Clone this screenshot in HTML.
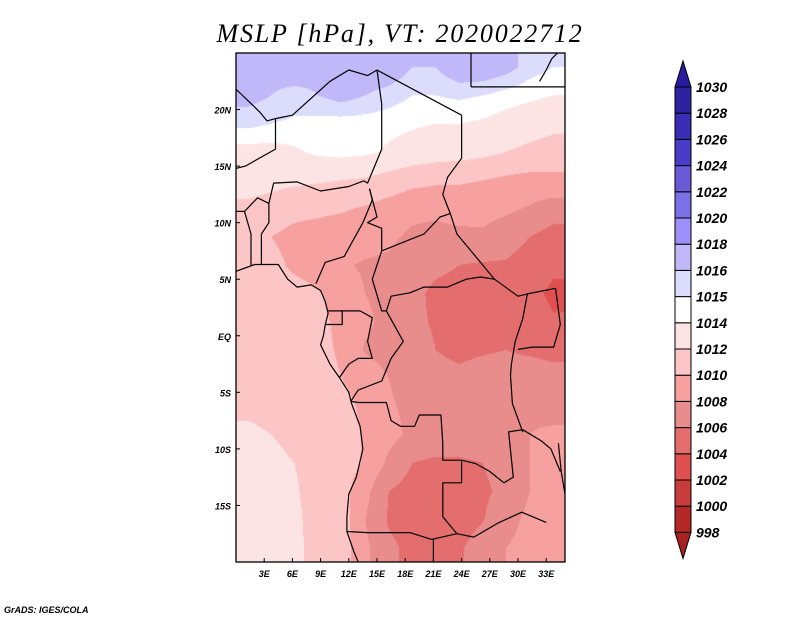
<!DOCTYPE html>
<html><head><meta charset="utf-8">
<style>
body{margin:0;background:#fff;}
#wrap{position:relative;width:800px;height:618px;overflow:hidden;background:#fff;font-family:"Liberation Sans",sans-serif;}
#map{position:absolute;left:236px;top:53px;}
svg{position:absolute;left:0;top:0;}
</style></head>
<body>
<div id="wrap">
<canvas id="map" width="329" height="509"></canvas>
<svg id="ov" width="800" height="618"></svg>
</div>
<script>
// Data grid: 2.5 deg cells, lon centres 1.25..33.75, lat centres 23.75..-18.75 (hPa)
const lonCenters=[1.25,3.75,6.25,8.75,11.25,13.75,16.25,18.75,21.25,23.75,26.25,28.75,31.25,33.75];
const latCenters=[23.75,21.25,18.75,16.25,13.75,11.25,8.75,6.25,3.75,1.25,-1.25,-3.75,-6.25,-8.75,-11.25,-13.75,-16.25,-18.75];
const mslp=[
[1016.5,1016.5,1017,1016.5,1016.5,1017,1017,1016,1016,1017,1017,1016.5,1015.5,1015],
[1016.5,1016,1015.5,1016,1016.5,1016,1015.5,1015,1015,1015.2,1015,1014.6,1014.3,1014],
[1015.3,1015,1014.8,1014.6,1014.5,1014.5,1014.4,1014.2,1014,1014,1013.8,1013.4,1013,1012.6],
[1013.5,1013.5,1013.8,1014.3,1014.5,1014.3,1013.8,1013.3,1013,1012.8,1012.5,1012,1011.5,1011],
[1012.8,1012.6,1012.4,1012.2,1012,1011.8,1011.2,1010.6,1010.3,1010.2,1010,1009.6,1009.4,1009.6],
[1011.6,1011.2,1010.6,1010.4,1010.2,1009.8,1009.2,1008.6,1008.6,1009,1008.8,1008.4,1007.8,1007],
[1011,1010,1009.4,1009.2,1009,1008.8,1008.4,1007.6,1007.2,1007.4,1007.6,1006.8,1006,1005.2],
[1011,1010.6,1009.6,1009,1008.2,1007.8,1007.6,1007,1006.4,1006,1005.8,1005.8,1005.2,1004.4],
[1011,1011,1010.8,1010.2,1009,1008,1007.4,1006.5,1005.6,1005.4,1005.4,1005.2,1004.6,1003.6],
[1011,1011,1011,1010.6,1009.4,1008.4,1007.4,1006.4,1005.8,1005.4,1005.4,1005.6,1005,1004.2],
[1011.2,1011,1011,1010.8,1009.6,1007.8,1007.2,1006.8,1006,1005.6,1005.8,1006,1005.6,1005.2],
[1011.5,1011.2,1011,1011,1010,1009.2,1008,1007.2,1006.6,1006.4,1006.8,1007,1007.4,1007],
[1011.6,1011.4,1011.2,1011,1010.6,1009.6,1008.2,1007.6,1007.4,1007.4,1007.2,1007.4,1007.8,1007.6],
[1012.4,1012,1011.4,1011.2,1010.8,1009.8,1008.6,1007.6,1007.4,1007.6,1007.6,1007.8,1008,1008.2],
[1012.8,1012.6,1012,1011.2,1011,1009.8,1007.6,1006,1005.6,1005.6,1006,1007,1008,1008.4],
[1013,1012.8,1012.2,1011.2,1010.8,1008.6,1006,1005.2,1005.2,1005.2,1005.6,1006.6,1008,1008.6],
[1013,1012.8,1012.4,1011.2,1011,1008,1005.8,1005.1,1005.1,1005.2,1005.9,1007.4,1008.4,1009],
[1013,1012.8,1012.4,1011.4,1011,1008.4,1006.4,1005.5,1005.5,1005.8,1006.8,1008,1008.6,1009]
];
const levels=[998,1000,1002,1004,1006,1008,1010,1012,1014,1015,1016,1018,1020,1022,1024,1026,1028,1030];
const levelColors=["#a82020","#b42828","#c83c3c","#e05050","#e46e6e","#e88c8c","#f6a0a0","#fcc6c6","#fde4e4","#ffffff","#dcdcfc","#c0b8f8","#9f8ff8","#7d6fe6","#6a5ad8","#4a3cc8","#3a2db4","#2d22a0","#2a1a9e"];
const xTicks=[3,6,9,12,15,18,21,24,27,30,33];
const yTicks=[20,15,10,5,0,-5,-10,-15];

const X0=236,X1=565,Y0=53,Y1=562,LON0=0,LON1=35,LAT0=25,LAT1=-20;
const xs=lon=>X0+(lon-LON0)/(LON1-LON0)*(X1-X0);
const ys=lat=>Y0+(LAT0-lat)/(LAT0-LAT1)*(Y1-Y0);
function hex(c){return [parseInt(c.substr(1,2),16),parseInt(c.substr(3,2),16),parseInt(c.substr(5,2),16)];}
const rgb=levelColors.map(hex);
function colorIdx(v){let i=0;while(i<levels.length&&v>=levels[i])i++;return i;}
function sample(lon,lat){
  let fi=(lon-lonCenters[0])/(lonCenters[1]-lonCenters[0]);
  let fj=(latCenters[0]-lat)/(latCenters[0]-latCenters[1]);
  fi=Math.max(0,Math.min(lonCenters.length-1.0001,fi));
  fj=Math.max(0,Math.min(latCenters.length-1.0001,fj));
  const i=Math.floor(fi),j=Math.floor(fj),a=fi-i,b=fj-j;
  return mslp[j][i]*(1-a)*(1-b)+mslp[j][i+1]*a*(1-b)+mslp[j+1][i]*(1-a)*b+mslp[j+1][i+1]*a*b;
}
const cv=document.getElementById('map'),ctx=cv.getContext('2d');
const img=ctx.createImageData(cv.width,cv.height);
for(let py=0;py<cv.height;py++){for(let px=0;px<cv.width;px++){
  const lon=LON0+(px+0.5)/(X1-X0)*(LON1-LON0), lat=LAT0-(py+0.5)/(Y1-Y0)*(LAT0-LAT1);
  const c=rgb[colorIdx(sample(lon,lat))],k=(py*cv.width+px)*4;
  img.data[k]=c[0];img.data[k+1]=c[1];img.data[k+2]=c[2];img.data[k+3]=255;}}
ctx.putImageData(img,0,0);

const NS='http://www.w3.org/2000/svg',svg=document.getElementById('ov');
function mk(t,a,p){const e=document.createElementNS(NS,t);for(const k in a)e.setAttribute(k,a[k]);(p||svg).appendChild(e);return e;}
const lines={
coastline:[[0,5.7],[2,6.3],[4.5,6.3],[5.5,5],[6.5,4.3],[8,4.5],[9,4],[9.5,3],[9.8,2],[9.5,1],[9.3,0],[9,-0.8],[10,-2.5],[11,-3.7],[12,-5],[12.3,-6],[13.2,-8],[13.5,-10],[12.8,-12.5],[12,-14],[11.8,-16],[11.8,-17.3],[12.5,-19],[13,-20]],
"border-algeria-niger":[[0,21.8],[2.5,19.8],[3.3,19],[4.2,19.2],[6,19.5],[10,22.5],[12,23.5],[14,23],[15,23.5]],
"border-chad-libya":[[15,23.5],[24,19.5]],
"border-libya-egypt":[[25,25],[25,22]],
"border-egypt-sudan":[[25,22],[35,22]],
"border-chad-sudan":[[24,19.5],[24,15.7],[22.5,14],[22,12.5],[22.8,10.8]],
"border-niger-chad":[[15,23.5],[15.5,20.5],[15.5,16.5],[14,13.5],[13.6,13.7]],
"border-niger-mali":[[4.2,19.2],[4.2,16.5],[1,15],[0,14.8]],
"border-niger-nigeria":[[3.5,11.7],[4,13.5],[6.5,13.6],[9,12.8],[12,13.2],[13.6,13.7]],
"border-benin-nigeria":[[2.7,6.3],[2.7,9],[3.5,10],[3.5,11.7]],
"border-togo-benin":[[1.6,6.2],[1.6,9],[0.9,11]],
"border-benin-niger":[[0.9,11],[2.3,12.2],[3.5,11.7]],
"border-burkina":[[0,11],[0.9,11]],
"border-nigeria-cameroon":[[8.5,4.6],[9.5,6.5],[11.5,7],[12.5,8.5],[13.5,10],[14.5,12],[14.2,13]],
"border-cameroon-chad":[[14.2,13],[15,10.5],[14,10],[15.5,9.5],[15.5,7.5]],
"border-chad-car":[[15.5,7.5],[18.5,8.5],[20,9],[21.7,10.5],[22.8,10.8]],
"border-car-cameroon":[[15.5,7.5],[14.5,5],[15.5,2.2],[16,2.2]],
"border-car-south":[[16,2.2],[16.5,3.5],[18.5,3.8],[20,4.3],[22.5,4.3],[24.5,5],[26,5.2],[27.5,5]],
"border-car-sudan":[[22.8,10.8],[23.5,9],[25,7.5],[27.5,5]],
"border-ssudan-drc":[[27.5,5],[30,3.5],[31,3.7],[34,4.2]],
"border-eqguinea":[[9.8,2.2],[11.3,2.2],[11.3,1],[9.5,1]],
"border-gabon":[[11.3,2.2],[13.2,2.2],[14.5,1.6],[14,-0.5],[14.5,-2],[13,-2],[12,-2.5],[11,-3.7]],
"border-congo-drc":[[16,2.2],[17.8,-0.5],[16.5,-2],[15.5,-4],[13,-4.8],[12.2,-5.8]],
"border-drc-angola":[[12.2,-5.8],[13,-5.9],[16,-5.9],[16.5,-7.5],[17.5,-8],[19,-8],[19.5,-7],[21.8,-7],[22,-9.5],[22,-11],[24,-11]],
"border-angola-zambia":[[24,-11],[24,-13],[22,-13],[22,-16],[23.5,-17.5]],
"border-angola-namibia":[[11.8,-17.3],[14,-17.4],[18.5,-17.4],[20.8,-18],[23.5,-17.5],[25.3,-17.8]],
"border-namibia-botswana":[[21,-18],[21,-20]],
"border-drc-zambia":[[24,-11],[25.5,-11.3],[27,-12],[28.5,-13],[29.5,-12.5],[29,-8.5],[30.5,-8.3]],
"border-zambia-zimbabwe":[[25.3,-17.8],[28,-16.5],[30.4,-15.6],[33,-16.5]],
"lake-tanganyika":[[29.2,-3.5],[29.4,-6],[30.5,-8.5]],
"border-drc-east":[[31,3.7],[30.5,1.5],[29.7,-0.5],[29.3,-2.5],[29.2,-3.5]],
"border-uganda":[[34,4.2],[34.5,1],[33.8,-1],[31.5,-1],[30,-1.2]],
"border-tanzania":[[30.5,-8.3],[32.5,-9.3],[33.5,-10],[34.5,-12]],
"lake-malawi":[[34.3,-9.5],[34.6,-12],[35,-14]],
"red-sea-coast":[[32.3,22.5],[33,23.5],[33.6,24.5],[34.2,25]]
};
const borders=mk('g',{fill:'none',stroke:'#000','stroke-width':'1.2','stroke-linejoin':'round'});
const clip=mk('clipPath',{id:'mc'});mk('rect',{x:X0,y:Y0,width:X1-X0,height:Y1-Y0},clip);
borders.setAttribute('clip-path','url(#mc)');
for(const n in lines){const p=mk('polyline',{points:lines[n].map(q=>xs(q[0]).toFixed(1)+','+ys(q[1]).toFixed(1)).join(' ')},borders);

}
mk('rect',{x:X0,y:Y0,width:X1-X0,height:Y1-Y0,fill:'none',stroke:'#000','stroke-width':'1.3',});
const ax=mk('g',{'font-family':'Liberation Sans, sans-serif','font-size':'9','font-style':'italic','font-weight':'bold'});
xTicks.forEach(v=>{const x=xs(v);
 mk('line',{x1:x,x2:x,y1:Y1,y2:Y1-4,stroke:'#000'},ax);
 const t=mk('text',{x:x,y:577,'text-anchor':'middle'},ax);t.textContent=v+'E';
 
 });
yTicks.forEach(v=>{const y=ys(v);
 mk('line',{x1:X0,x2:X0+4,y1:y,y2:y,stroke:'#000'},ax);
 const t=mk('text',{x:231,y:y+4,'text-anchor':'end'},ax);t.textContent=v===0?'EQ':(v>0?v+'N':(-v)+'S');
 
 });
const cb=mk('g',{});
const CX=675,CW=16,CT=87,CS=26.2,n=levels.length-1;
mk('polygon',{points:`${CX},${CT} ${CX+CW},${CT} ${CX+CW/2},${CT-26}`,fill:levelColors[levelColors.length-1],stroke:'#000'},cb);
for(let i=0;i<n;i++){const y=CT+(n-1-i)*CS;
 const r=mk('rect',{x:CX,y:y,width:CW,height:CS,fill:levelColors[i+1],stroke:'#000','stroke-width':'1'},cb);
 
 }
const CB=CT+n*CS;
mk('polygon',{points:`${CX},${CB} ${CX+CW},${CB} ${CX+CW/2},${CB+26}`,fill:levelColors[0],stroke:'#000'},cb);
levels.forEach((v,i)=>{const t=mk('text',{x:696,y:CB-i*CS+5,'font-family':'Liberation Sans, sans-serif','font-size':'14','font-style':'italic','font-weight':'bold'},cb);t.textContent=v;
 
 });
const ti=mk('text',{x:400,y:42,'text-anchor':'middle','font-family':'Liberation Serif, serif','font-size':'26','font-style':'italic','letter-spacing':'1.8'});
ti.textContent='MSLP [hPa], VT: 2020022712';


const g=mk('text',{x:4,y:613,'font-family':'Liberation Sans, sans-serif','font-size':'9','font-style':'italic','font-weight':'bold'});
g.textContent='GrADS: IGES/COLA';


</script>
</body></html>
